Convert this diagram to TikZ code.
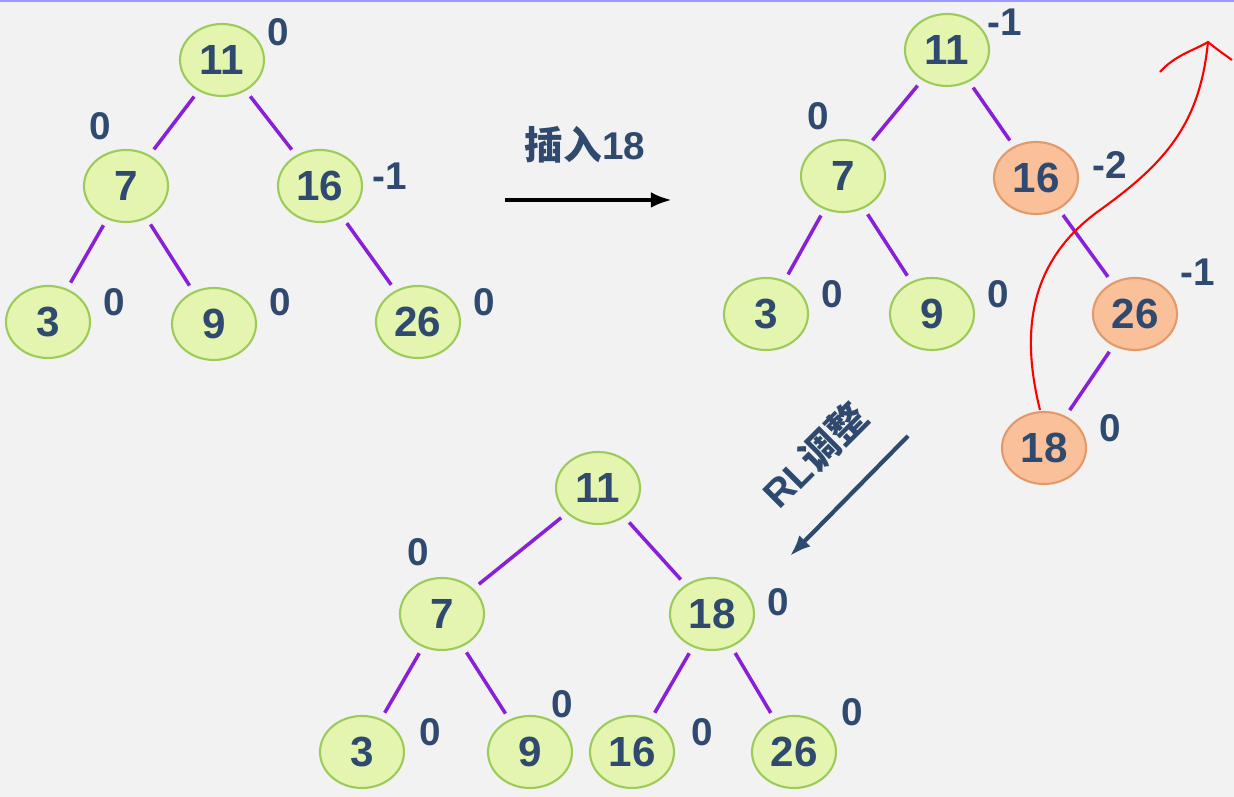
\documentclass[tikz,border=0pt]{standalone}
\usepackage{fontspec}
\setmainfont{Liberation Sans}
\newfontfamily\cjk{Noto Sans CJK SC}
\usetikzlibrary{shapes.geometric,arrows.meta}
\definecolor{txtblue}{HTML}{2F4A6E}
\definecolor{greenfill}{HTML}{E4F5B0}
\definecolor{greenline}{HTML}{9CCB5A}
\definecolor{orangefill}{HTML}{F9C09A}
\definecolor{orangeline}{HTML}{E39A6A}
\definecolor{edgepurple}{HTML}{8A1FD8}
\newlength\unitpx \setlength\unitpx{0.1mm}
\tikzset{
  avl/.style={ellipse,draw=greenline,fill=greenfill,semithick,minimum width=84\unitpx,minimum height=72\unitpx,
    inner sep=0pt,font=\fontsize{12}{12}\selectfont\bfseries,text=txtblue},
  hot/.style={avl,draw=orangeline,fill=orangefill},
  bal/.style={font=\fontsize{11}{11}\selectfont\bfseries,text=txtblue},
  link/.style={edgepurple,line width=1pt,shorten <=2pt,shorten >=2pt}
}
\begin{document}
\begin{tikzpicture}[x=0.1mm,y=-0.1mm]
\fill[black!5] (0,0) rectangle (1234,797);
\useasboundingbox (0,0) rectangle (1234,797);
\draw[blue!40,thin] (0,1) -- (1234,1);
% first tree
\node[avl] (a11) at (222,60) {11};
\node[avl] (a7) at (126,186) {7};
\node[avl] (a16) at (320,186) {16};
\node[avl] (a3) at (48,322) {3};
\node[avl] (a9) at (214,324) {9};
\node[avl] (a26) at (418,322) {26};
\foreach \p/\c in {a11/a7,a11/a16,a7/a3,a7/a9,a16/a26}
  \draw[link] (\p) -- (\c);
\node[bal] at (278,32) {0};
\node[bal] at (100,126) {0};
\node[bal] at (390,176) {-1};
\node[bal] at (114,302) {0};
\node[bal] at (280,302) {0};
\node[bal] at (484,302) {0};
% insert arrow
\coordinate (i1) at (505,200);
\coordinate (i2) at (672,200);
\draw[-{Latex[length=6pt]},line width=1.2pt] (i1) -- (i2);
\node[bal] at (585,145) {{\cjk\bfseries 插入}18};
% second tree
\node[avl] (b11) at (947,50) {11};
\node[avl] (b7) at (843,176) {7};
\node[hot] (b16) at (1036,178) {16};
\node[avl] (b3) at (766,314) {3};
\node[avl] (b9) at (932,314) {9};
\node[hot] (b26) at (1135,314) {26};
\node[hot] (b18) at (1044,448) {18};
\foreach \p/\c in {b11/b7,b11/b16,b7/b3,b7/b9,b16/b26,b26/b18}
  \draw[link] (\p) -- (\c);
\node[bal] at (1005,22) {-1};
\node[bal] at (818,116) {0};
\node[bal] at (1110,165) {-2};
\node[bal] at (832,294) {0};
\node[bal] at (998,294) {0};
\node[bal] at (1198,272) {-1};
\node[bal] at (1110,428) {0};
% red hand stroke
\draw[red,semithick] (1040,410) .. controls (1020,330) and (1030,260) .. (1100,210)
  .. controls (1170,160) and (1200,120) .. (1208,42);
\draw[red,semithick] (1160,72) .. controls (1175,55) and (1195,50) .. (1208,42)
  .. controls (1215,48) and (1225,55) .. (1232,60);
% rotation arrow
\coordinate (r1) at (908,436);
\coordinate (r2) at (790,556);
\draw[-{Latex[length=6pt]},line width=1.2pt,txtblue] (r1) -- (r2);
\node[bal,rotate=45] at (815,455) {RL{\cjk\bfseries 调整}};
% third tree
\node[avl] (c11) at (598,488) {11};
\node[avl] (c7) at (442,614) {7};
\node[avl] (c18) at (712,614) {18};
\node[avl] (c3) at (362,752) {3};
\node[avl] (c9) at (530,752) {9};
\node[avl] (c16) at (632,752) {16};
\node[avl] (c26) at (794,752) {26};
\foreach \p/\c in {c11/c7,c11/c18,c7/c3,c7/c9,c18/c16,c18/c26}
  \draw[link] (\p) -- (\c);
\node[bal] at (418,552) {0};
\node[bal] at (778,602) {0};
\node[bal] at (430,732) {0};
\node[bal] at (562,704) {0};
\node[bal] at (702,732) {0};
\node[bal] at (852,712) {0};
\end{tikzpicture}
\end{document}
